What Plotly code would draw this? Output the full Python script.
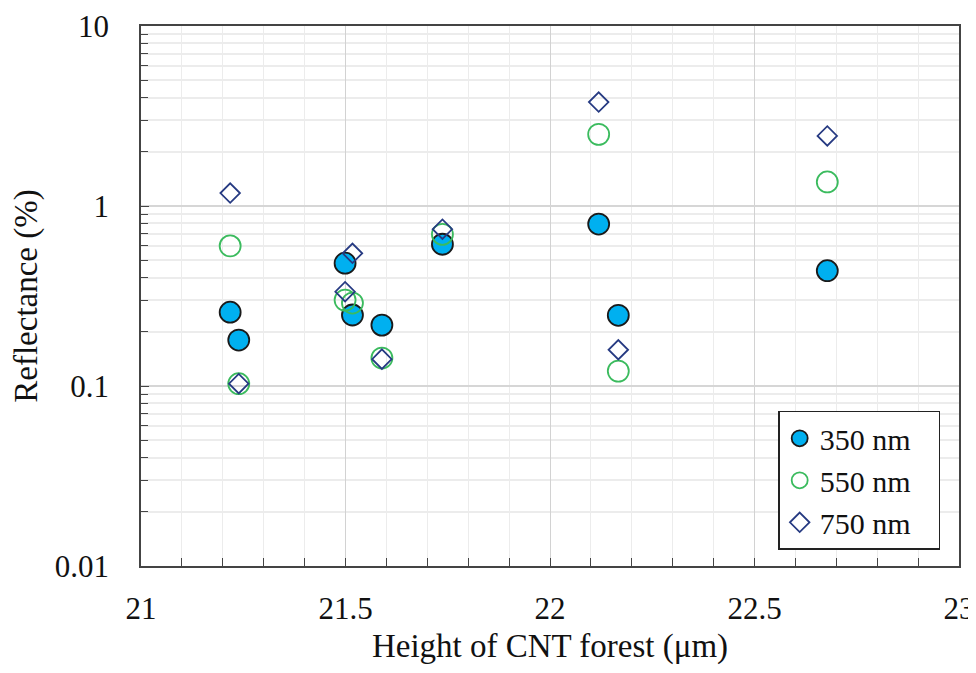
import plotly.graph_objects as go

# Height of CNT forest (um)
height = [21.218, 21.239, 21.499, 21.517, 21.589, 21.737, 22.119, 22.167, 22.678]

# reflectance (%)
refl_350 = [0.257, 0.180, 0.481, 0.248, 0.218, 0.613, 0.794, 0.247, 0.437]
refl_550 = [0.600, 0.103, 0.300, 0.289, 0.143, 0.696, 2.50, 0.121, 1.36]
refl_750 = [1.18, 0.103, 0.334, 0.546, 0.141, 0.743, 3.78, 0.159, 2.45]

font = "Liberation Serif"
pad = "\u00a0\u00a0\u00a0"  # widens the legend box a little

fig = go.Figure()

fig.add_trace(go.Scatter(x=height, y=refl_350, mode="markers", name="350 nm" + pad,
                         marker=dict(symbol="circle", size=21, color="#00b0f0",
                                     line=dict(color="#1a1a1a", width=1.8))))
fig.add_trace(go.Scatter(x=height, y=refl_550, mode="markers", name="550 nm" + pad,
                         marker=dict(symbol="circle-open", size=21, color="#3bbb5e",
                                     line=dict(color="#3bbb5e", width=1.8))))
fig.add_trace(go.Scatter(x=height, y=refl_750, mode="markers", name="750 nm" + pad,
                         marker=dict(symbol="diamond-open", size=15, color="#263a82",
                                     line=dict(color="#263a82", width=1.8))))

# page body has an 8px margin; keep the figure small enough to avoid scrollbars
fig.update_layout(
    width=968, height=657,
    margin=dict(l=133, r=17, t=18, b=99),
    plot_bgcolor="white", paper_bgcolor="white",
    font=dict(family=font, size=31, color="#111111"),
    showlegend=True,
    legend=dict(x=0.977, y=0.03, xanchor="right", yanchor="bottom",
                bgcolor="white", bordercolor="#222222", borderwidth=1.5,
                font=dict(family=font, size=30), itemwidth=30,
                tracegroupgap=0),
)

fig.update_xaxes(
    range=[21, 23], dtick=0.5, automargin=False,
    showline=True, linecolor="#444444", linewidth=1.5, mirror=True,
    showgrid=True, gridcolor="#d2d2d2", gridwidth=1,
    ticks="inside", ticklen=8, tickcolor="#444444",
    ticklabelstandoff=14,
    minor=dict(dtick=0.1, showgrid=True, gridcolor="#ececec",
               ticks="inside", ticklen=8, tickcolor="#444444"),
    zeroline=False,
    title=dict(text="Height of CNT forest (μm)", standoff=14,
               font=dict(family=font, size=33)),
)

fig.update_yaxes(
    type="log", range=[-2, 1], dtick=1, automargin=False,
    showline=True, linecolor="#444444", linewidth=1.5, mirror=True,
    showgrid=True, gridcolor="#d6d6d6", gridwidth=2,
    ticks="inside", ticklen=8, tickcolor="#444444",
    ticklabelstandoff=24,
    minor=dict(dtick="D1", showgrid=True, gridcolor="#ececec",
               ticks="inside", ticklen=7, tickcolor="#444444"),
    zeroline=False,
    title=dict(text="Reflectance (%)", standoff=8,
               font=dict(family=font, size=33)),
)

fig.write_html("out.html")
